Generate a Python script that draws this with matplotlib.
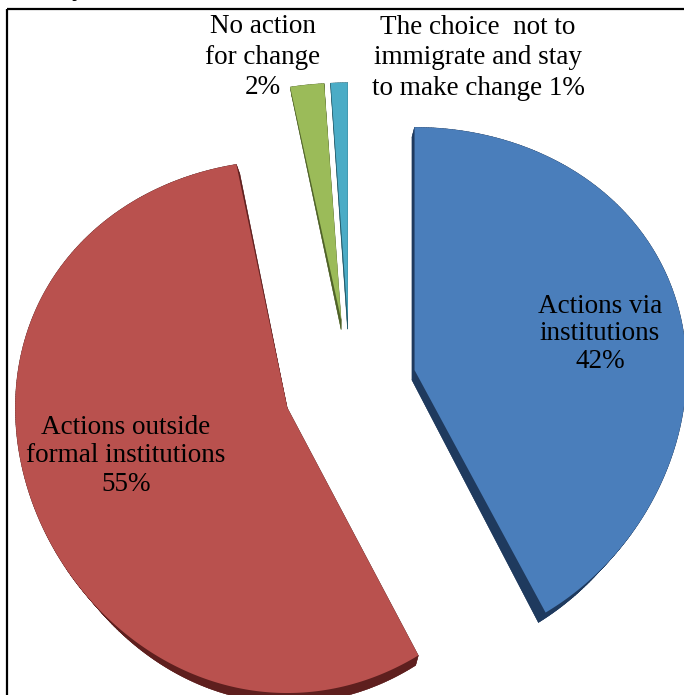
import numpy as np
import matplotlib
matplotlib.use("Agg")
import matplotlib.pyplot as plt
from matplotlib.patches import Polygon, Rectangle

# survey shares, in pie order (clockwise from 12 o'clock)
categories = ["Actions via\ninstitutions",
              "Actions outside\nformal institutions",
              "No action\nfor change",
              "The choice  not to\nimmigrate and stay\nto make change"]
shares = [42, 55, 2, 1]
value_sep = ["\n", "\n", "\n", " "]

top_colors = ["#4A7EBB", "#B9514E", "#9BBB59", "#4BACC6"]
side_colors = ["#1F3A5E", "#5E1F1E", "#4F6228", "#215968"]

# pie geometry in pixel space (y grows downward)
CX, CY = 350, 386
RX, RY = 272, 262
PERSP = 0.07
EXPLODE = [0.245, 0.245, 0.26, 0.26]
DEPTH = 10

# label anchor points (pixel coords) and line spacing
label_pos = [(600, 334), (126, 456), (263, 57), (478, 58)]
label_spacing = [1.15, 1.2, 1.3, 1.3]


def to_screen(u, v):
    x = CX + RX * u
    y = CY - RY * v / (1 + PERSP * v)
    return np.column_stack([x, y])


def extrude(pts):
    out = pts.copy()
    out[:, 0] -= (pts[:, 0] - 340) * 0.035
    out[:, 1] += DEPTH
    return out


fig = plt.figure(figsize=(6.84, 6.95), dpi=100)
ax = fig.add_axes([0, 0, 1, 1])
ax.set_xlim(0, 684)
ax.set_ylim(695, 0)
ax.axis("off")

total = float(sum(shares))
start = 0.0
for i, val in enumerate(shares):
    sweep = 360.0 * val / total
    mid = np.radians(start + sweep / 2)
    eu, ev = EXPLODE[i] * np.sin(mid), EXPLODE[i] * np.cos(mid)
    th = np.radians(np.linspace(start, start + sweep, max(int(sweep * 2), 8)))
    u = np.concatenate([[eu], eu + np.sin(th)])
    v = np.concatenate([[ev], ev + np.cos(th)])
    top = to_screen(u, v)
    bot = extrude(top)

    # side walls: bottom face plus a quad for every edge
    ax.add_patch(Polygon(bot, closed=True, fc=side_colors[i], ec="none", zorder=2))
    n = len(top)
    for j in range(n):
        k = (j + 1) % n
        quad = np.array([top[j], top[k], bot[k], bot[j]])
        ax.add_patch(Polygon(quad, closed=True, fc=side_colors[i],
                             ec=side_colors[i], lw=0.3, zorder=2))
    ax.add_patch(Polygon(top, closed=True, fc=top_colors[i], ec="none", zorder=3))
    start += sweep

for name, val, sep, (lx, ly), ls in zip(categories, shares, value_sep,
                                        label_pos, label_spacing):
    ax.text(lx, ly, f"{name}{sep}{val}%", ha="center", va="center",
            multialignment="center", fontsize=19.5, family="Liberation Serif",
            color="black", linespacing=ls, zorder=5)

# frame around the chart area, and the caption line above it
ax.add_patch(Rectangle((7, 9), 720, 720, fill=False, ec="black", lw=1.6,
                       zorder=6, clip_on=False))
ax.text(72, -4, "y [1]", ha="left", va="baseline", fontsize=19,
        family="Liberation Serif", color="black", clip_on=False)

fig.savefig("out.png", dpi=100)
